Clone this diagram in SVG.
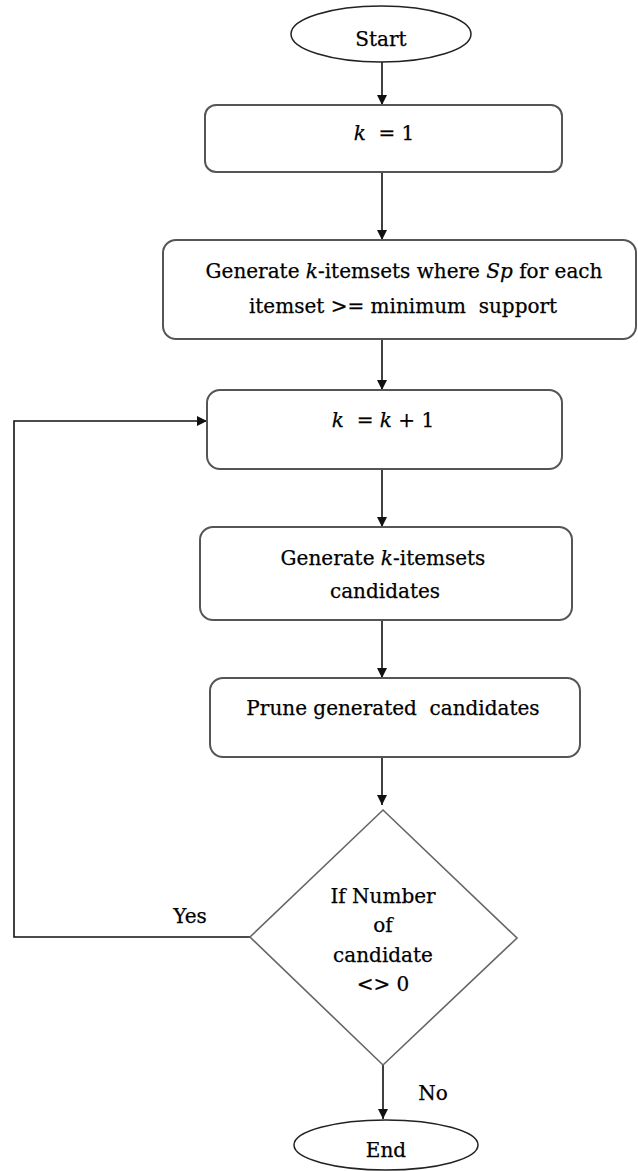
<svg xmlns="http://www.w3.org/2000/svg" width="638" height="1171" viewBox="0 0 638 1171">
<style>
.box{fill:#fff;stroke:#555;stroke-width:2}
.term{fill:#fff;stroke:#222;stroke-width:1.5}
.dia{fill:#fff;stroke:#666;stroke-width:1.6}
.t{font-family:"DejaVu Serif","Liberation Serif",serif;font-size:20px;fill:#000;stroke:#000;stroke-width:0.25;text-anchor:middle}
.i{font-style:italic}
.conn{fill:none;stroke:#111;stroke-width:1.6}
</style>
<defs>
<marker id="arr" viewBox="0 0 10 10" refX="10" refY="5" markerWidth="10" markerHeight="10" markerUnits="userSpaceOnUse" orient="auto">
<path d="M0,0 L10,5 L0,10 Z" fill="#111"/>
</marker>
</defs>
<rect width="638" height="1171" fill="#fff"/>
<g id="connectors">
<path class="conn" d="M382,62 V105" marker-end="url(#arr)"/>
<path class="conn" d="M382,173 V240" marker-end="url(#arr)"/>
<path class="conn" d="M382,340 V390" marker-end="url(#arr)"/>
<path class="conn" d="M382,469 V527" marker-end="url(#arr)"/>
<path class="conn" d="M382,620 V678" marker-end="url(#arr)"/>
<path class="conn" d="M382,757 V805" marker-end="url(#arr)"/>
<path class="conn" d="M383,1065 V1119" marker-end="url(#arr)"/>
<path class="conn" d="M250,937 H14 V421 H207" marker-end="url(#arr)"/>
<text class="t" x="190" y="923">Yes</text>
<text class="t" x="433" y="1100">No</text>
</g>
<g id="start">
<ellipse class="term" cx="381" cy="34" rx="90" ry="28"/>
<text class="t" x="381" y="46">Start</text>
</g>
<g id="k1">
<rect class="box" x="205" y="105" width="357" height="67" rx="11"/>
<text class="t" x="384" y="140" xml:space="preserve"><tspan class="i">k</tspan>  = 1</text>
</g>
<g id="gen1">
<rect class="box" x="163" y="240" width="473" height="99" rx="13"/>
<text class="t" x="404" y="278"><tspan>Generate </tspan><tspan class="i">k</tspan><tspan>-itemsets where </tspan><tspan class="i">Sp</tspan><tspan> for each</tspan></text>
<text class="t" x="403" y="313" xml:space="preserve">itemset &gt;= minimum  support</text>
</g>
<g id="kinc">
<rect class="box" x="207" y="390" width="355" height="79" rx="13"/>
<text class="t" x="383" y="427" xml:space="preserve"><tspan class="i">k</tspan>  = <tspan class="i">k</tspan> + 1</text>
</g>
<g id="gencand">
<rect class="box" x="200" y="527" width="372" height="93" rx="13"/>
<text class="t" x="383" y="565"><tspan>Generate </tspan><tspan class="i">k</tspan><tspan>-itemsets</tspan></text>
<text class="t" x="385" y="598">candidates</text>
</g>
<g id="prune">
<rect class="box" x="210" y="678" width="370" height="79" rx="13"/>
<text class="t" x="393" y="715" xml:space="preserve">Prune generated  candidates</text>
</g>
<g id="decision">
<polygon class="dia" points="383,810 517,938 383,1065 250,937"/>
<text class="t" x="383" y="903">If Number</text>
<text class="t" x="383" y="932">of</text>
<text class="t" x="383" y="962">candidate</text>
<text class="t" x="383" y="991">&lt;&gt; 0</text>
</g>
<g id="end">
<ellipse class="term" cx="386" cy="1145" rx="92" ry="25"/>
<text class="t" x="386" y="1157">End</text>
</g>
</svg>
